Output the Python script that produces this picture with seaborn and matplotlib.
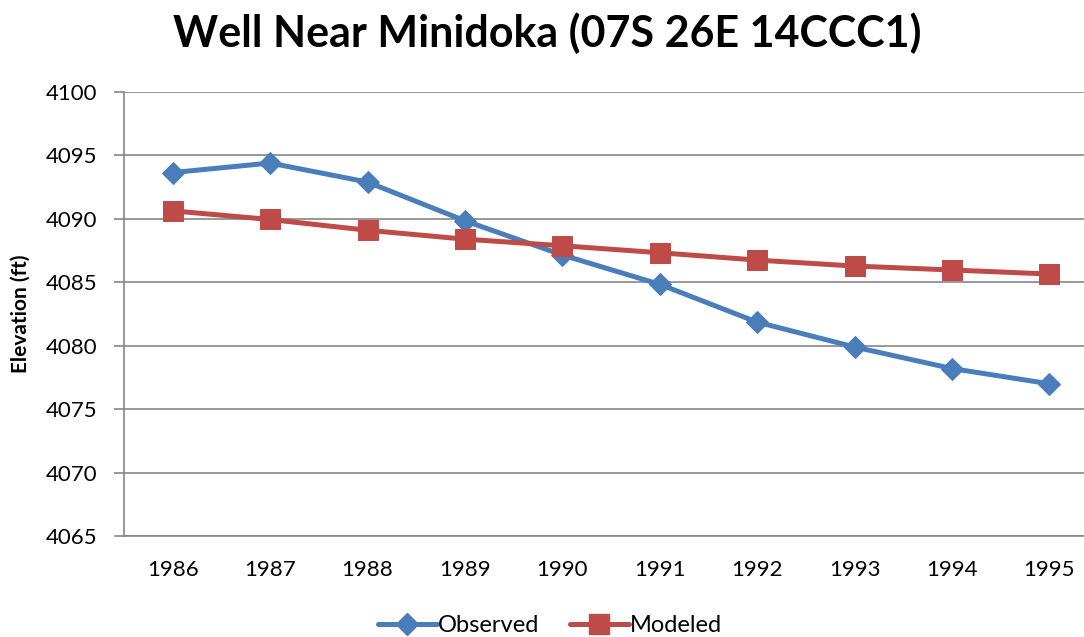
import matplotlib
matplotlib.use("Agg")
import matplotlib.pyplot as plt
import seaborn as sns
import pandas as pd
from matplotlib.lines import Line2D

years = ["1986", "1987", "1988", "1989", "1990", "1991", "1992", "1993", "1994", "1995"]
observed = [4093.65, 4094.4, 4092.9, 4089.85, 4087.15, 4084.84, 4081.86, 4079.9, 4078.2, 4077.0]
modeled = [4090.63, 4089.95, 4089.1, 4088.4, 4087.88, 4087.33, 4086.75, 4086.28, 4085.97, 4085.65]
yticks = [4065, 4070, 4075, 4080, 4085, 4090, 4095, 4100]

sns.set_theme(style="white")
plt.rcParams['font.family'] = ['Lato', 'DejaVu Sans']
plt.rcParams['text.color'] = 'black'
plt.rcParams['axes.labelcolor'] = 'black'
plt.rcParams['xtick.labelcolor'] = 'black'
plt.rcParams['ytick.labelcolor'] = 'black'

blue = "#4A7EBB"
red = "#BE4B48"
grey = "#868686"

df = pd.DataFrame({
    "x": list(range(len(years))) * 2,
    "value": observed + modeled,
    "series": ["Observed"] * len(years) + ["Modeled"] * len(years),
})

fig = plt.figure(figsize=(10.84, 6.37), dpi=100)
ax = fig.add_axes([124 / 1084, 1 - 536 / 637, (1098 - 124) / 1084, (536 - 92) / 637])

sns.lineplot(data=df[df.series == "Observed"], x="x", y="value", ax=ax, color=blue,
             linewidth=3.6, marker="D", markersize=11, markeredgecolor=blue, legend=False)
sns.lineplot(data=df[df.series == "Modeled"], x="x", y="value", ax=ax, color=red,
             linewidth=3.6, marker="s", markersize=14, markeredgecolor=red, legend=False)

ax.set_xlim(-0.5, len(years) - 0.5)
ax.set_ylim(4065, 4100)
ax.set_yticks(yticks)
ax.set_yticklabels([str(t) for t in yticks], fontsize=16, color="black")
ax.set_xticks(range(len(years)))
ax.set_xticklabels(years, fontsize=16, color="black")
ax.set_xticks([i - 0.5 for i in range(len(years) + 1)], minor=True)
ax.tick_params(axis="x", which="major", length=0, pad=17)
ax.tick_params(axis="x", which="minor", length=7, width=1.2, color=grey, direction="out")
ax.tick_params(axis="y", length=7, width=1.2, color=grey, direction="out", left=True, pad=12)
ax.yaxis.grid(True, color=grey, linewidth=1.2)
ax.xaxis.grid(False)
for side in ["top", "right"]:
    ax.spines[side].set_visible(False)
for side in ["left", "bottom"]:
    ax.spines[side].set_color(grey)
    ax.spines[side].set_linewidth(1.2)
ax.set_axisbelow(True)

ax.set_xlabel("")
ax.set_ylabel("Elevation (ft)", fontsize=15, fontweight="bold", color="black")
ax.yaxis.set_label_coords((31 - 124) / 974, 0.5)

fig.text(547 / 1084, 1 - 33 / 637, "Well Near Minidoka (07S 26E 14CCC1)",
         ha="center", va="center", fontsize=31, fontweight="bold", color="black")

handles = [
    Line2D([], [], color=blue, linewidth=3.6, marker="D", markersize=11, markeredgecolor=blue),
    Line2D([], [], color=red, linewidth=3.6, marker="s", markersize=14, markeredgecolor=red),
]
fig.legend(handles, ["Observed", "Modeled"], loc="center", bbox_to_anchor=(550 / 1084, 1 - 626 / 637),
           ncol=2, frameon=False, fontsize=17, handlelength=2.5, handletextpad=0.05,
           columnspacing=1.3, labelcolor="black")

fig.savefig("out.png", dpi=100)
